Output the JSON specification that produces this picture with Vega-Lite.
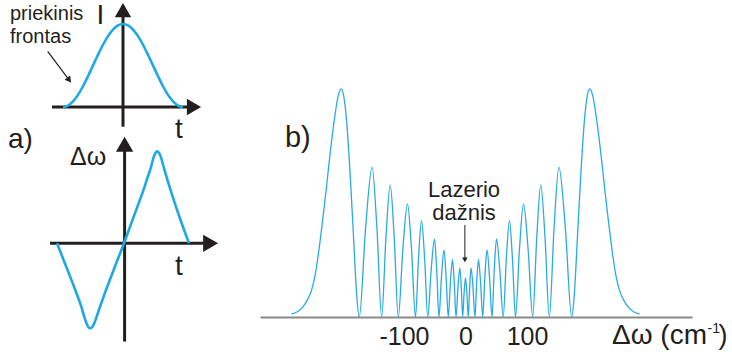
{
  "$schema": "https://vega.github.io/schema/vega-lite/v6.json",
  "padding": 0,
  "spacing": 30,
  "config": {"view": {"stroke": null}, "font": "Liberation Sans"},
  "datasets": {
    "a1Axes": [{"t": -3.55, "v": 0, "t2": 3.55, "v2": 0}, {"t": 0, "v": -0.237, "t2": 0, "v2": 1.167}],
    "a1Heads": [{"t": 3.55, "v": 0, "dir": "right"}, {"t": 0, "v": 1.167, "dir": "up"}],
    "a1Words": [{"t": -5.65, "v": 1.043, "label": "priekinis"}, {"t": -5.65, "v": 0.771, "label": "frontas"}],
    "a1Symbols": [{"t": -1.33, "v": 1.0, "label": "I"}, {"t": 2.6, "v": -0.37, "label": "t"}],
    "a1Pointer": [{"t": -3.765, "v": 0.67, "t2": -2.69, "v2": 0.325}],
    "a1PointerHead": [{"t": -2.69, "v": 0.325}],
    "pulse": [
      {"t": -3, "v": 0}, {"t": -2.75, "v": 0.017}, {"t": -2.5, "v": 0.067}, {"t": -2.25, "v": 0.146},
      {"t": -2, "v": 0.25}, {"t": -1.75, "v": 0.371}, {"t": -1.5, "v": 0.5}, {"t": -1.25, "v": 0.629},
      {"t": -1, "v": 0.75}, {"t": -0.75, "v": 0.854}, {"t": -0.5, "v": 0.933}, {"t": -0.25, "v": 0.983},
      {"t": 0, "v": 1}, {"t": 0.25, "v": 0.983}, {"t": 0.5, "v": 0.933}, {"t": 0.75, "v": 0.854},
      {"t": 1, "v": 0.75}, {"t": 1.25, "v": 0.629}, {"t": 1.5, "v": 0.5}, {"t": 1.75, "v": 0.371},
      {"t": 2, "v": 0.25}, {"t": 2.25, "v": 0.146}, {"t": 2.5, "v": 0.067}, {"t": 2.75, "v": 0.017}, {"t": 3, "v": 0}
    ],
    "a2Axes": [{"t": -3.7, "v": 0, "t2": 4.33, "v2": 0}, {"t": 0.03, "v": -1.11, "t2": 0.03, "v2": 1.12}],
    "a2Heads": [{"t": 4.33, "v": 0, "dir": "right"}, {"t": 0.03, "v": 1.12, "dir": "up"}],
    "a2Big": [{"t": -5.8, "v": 1.077, "label": "a)"}, {"t": 2.55, "v": -0.358, "label": "t"}],
    "a2Small": [{"t": -2.7, "v": 0.885, "label": "Δω"}],
    "chirp": [
      {"t": -3.35, "v": 0}, {"t": -3.0, "v": -0.2}, {"t": -2.6, "v": -0.43}, {"t": -2.3, "v": -0.61},
      {"t": -2.1, "v": -0.74}, {"t": -2.0, "v": -0.82}, {"t": -1.9, "v": -0.89}, {"t": -1.8, "v": -0.94},
      {"t": -1.7, "v": -0.96}, {"t": -1.6, "v": -0.95}, {"t": -1.5, "v": -0.91}, {"t": -1.4, "v": -0.85},
      {"t": -1.25, "v": -0.75}, {"t": -1.0, "v": -0.59}, {"t": -0.5, "v": -0.29}, {"t": 0, "v": 0},
      {"t": 0.5, "v": 0.31}, {"t": 1.0, "v": 0.62}, {"t": 1.2, "v": 0.76}, {"t": 1.35, "v": 0.86},
      {"t": 1.45, "v": 0.95}, {"t": 1.55, "v": 1.01}, {"t": 1.65, "v": 1.04}, {"t": 1.75, "v": 1.02},
      {"t": 1.85, "v": 0.97}, {"t": 1.95, "v": 0.89}, {"t": 2.1, "v": 0.77}, {"t": 2.4, "v": 0.55},
      {"t": 2.8, "v": 0.28}, {"t": 3.25, "v": 0}
    ],
    "spectrum": [
      {"w": -283, "v": 0.013}, {"w": -274, "v": 0.022}, {"w": -265, "v": 0.042}, {"w": -257, "v": 0.075},
      {"w": -250, "v": 0.12}, {"w": -244, "v": 0.19}, {"w": -238, "v": 0.3}, {"w": -232, "v": 0.43},
      {"w": -226, "v": 0.57}, {"w": -220, "v": 0.72}, {"w": -213, "v": 0.87}, {"w": -207, "v": 0.97},
      {"w": -202, "v": 1.0}, {"w": -198, "v": 0.97}, {"w": -193, "v": 0.85}, {"w": -187, "v": 0.6},
      {"w": -182, "v": 0.35}, {"w": -177, "v": 0.1}, {"w": -172.7, "v": 0},
      {"w": -162.3, "v": 0.394}, {"w": -151.9, "v": 0.657}, {"w": -144.1, "v": 0.394}, {"w": -136.3, "v": 0},
      {"w": -129.35, "v": 0.347}, {"w": -122.4, "v": 0.578}, {"w": -115.85, "v": 0.347}, {"w": -109.3, "v": 0},
      {"w": -101.8, "v": 0.298}, {"w": -94.3, "v": 0.496}, {"w": -87.8, "v": 0.298}, {"w": -81.3, "v": 0},
      {"w": -76.4, "v": 0.254}, {"w": -71.5, "v": 0.423}, {"w": -66.4, "v": 0.254}, {"w": -61.3, "v": 0},
      {"w": -55.85, "v": 0.205}, {"w": -50.4, "v": 0.341}, {"w": -46.75, "v": 0.205}, {"w": -43.1, "v": 0},
      {"w": -39.05, "v": 0.176}, {"w": -35.0, "v": 0.294}, {"w": -31.5, "v": 0.176}, {"w": -28.0, "v": 0},
      {"w": -24.55, "v": 0.151}, {"w": -21.1, "v": 0.251}, {"w": -18.25, "v": 0.151}, {"w": -15.4, "v": 0},
      {"w": -12.25, "v": 0.129}, {"w": -9.1, "v": 0.215}, {"w": -6.8, "v": 0.129}, {"w": -4.55, "v": 0},
      {"w": -2.3, "v": 0.103}, {"w": 0, "v": 0.171}, {"w": 2.3, "v": 0.103},
      {"w": 4.55, "v": 0}, {"w": 6.8, "v": 0.129}, {"w": 9.1, "v": 0.215}, {"w": 12.25, "v": 0.129},
      {"w": 15.4, "v": 0}, {"w": 18.25, "v": 0.151}, {"w": 21.1, "v": 0.251}, {"w": 24.55, "v": 0.151},
      {"w": 28.0, "v": 0}, {"w": 31.5, "v": 0.176}, {"w": 35.0, "v": 0.294}, {"w": 39.05, "v": 0.176},
      {"w": 43.1, "v": 0}, {"w": 46.75, "v": 0.205}, {"w": 50.4, "v": 0.341}, {"w": 55.85, "v": 0.205},
      {"w": 61.3, "v": 0}, {"w": 66.4, "v": 0.254}, {"w": 71.5, "v": 0.423}, {"w": 76.4, "v": 0.254},
      {"w": 81.3, "v": 0}, {"w": 87.8, "v": 0.298}, {"w": 94.3, "v": 0.496}, {"w": 101.8, "v": 0.298},
      {"w": 109.3, "v": 0}, {"w": 115.85, "v": 0.347}, {"w": 122.4, "v": 0.578}, {"w": 129.35, "v": 0.347},
      {"w": 136.3, "v": 0}, {"w": 144.1, "v": 0.394}, {"w": 151.9, "v": 0.657}, {"w": 162.3, "v": 0.394},
      {"w": 172.7, "v": 0}, {"w": 177, "v": 0.1}, {"w": 182, "v": 0.35}, {"w": 187, "v": 0.6},
      {"w": 193, "v": 0.85}, {"w": 198, "v": 0.97}, {"w": 202, "v": 1.0}, {"w": 207, "v": 0.97},
      {"w": 213, "v": 0.87}, {"w": 220, "v": 0.72}, {"w": 226, "v": 0.57}, {"w": 232, "v": 0.43},
      {"w": 238, "v": 0.3}, {"w": 244, "v": 0.19}, {"w": 250, "v": 0.12}, {"w": 257, "v": 0.075},
      {"w": 265, "v": 0.042}, {"w": 274, "v": 0.022}, {"w": 283, "v": 0.013}
    ],
    "bLabel": [{"w": -293.5, "v": 0.747, "label": "b)"}],
    "laser": [{"w": -2.4, "v": 0.526, "label": "Lazerio"}, {"w": -2.4, "v": 0.425, "label": "dažnis"}],
    "laserArrow": [{"w": -1, "v": 0.4035, "w2": -1, "v2": 0.255}],
    "laserHead": [{"w": -1, "v": 0.251}],
    "titleMain": [{"w": 392.7, "v": -0.118, "label": "Δω (cm"}],
    "titleSup": [{"w": 393.5, "v": -0.07, "label": "-1"}],
    "titleEnd": [{"w": 411.4, "v": -0.118, "label": ")"}]
  },
  "hconcat": [
    {
      "vconcat": [
        {
          "width": 230,
          "height": 130,
          "encoding": {
            "x": {"field": "t", "type": "quantitative", "scale": {"domain": [-6.15, 5.35], "nice": false, "zero": false}, "axis": null},
            "y": {"field": "v", "type": "quantitative", "scale": {"domain": [-0.277, 1.289], "nice": false, "zero": false}, "axis": null}
          },
          "layer": [
            {"data": {"name": "a1Axes"}, "mark": {"type": "rule", "color": "#231f20", "strokeWidth": 3}, "encoding": {"x2": {"field": "t2"}, "y2": {"field": "v2"}}},
            {"data": {"name": "a1Heads"}, "mark": {"type": "point", "filled": true, "opacity": 1, "color": "#231f20", "size": 270}, "encoding": {"shape": {"field": "dir", "type": "nominal", "scale": {"domain": ["right", "up"], "range": ["triangle-right", "triangle-up"]}, "legend": null}}},
            {"data": {"name": "pulse"}, "mark": {"type": "line", "color": "#1fa9e1", "strokeWidth": 2.6, "interpolate": "monotone"}},
            {"data": {"name": "a1Words"}, "mark": {"type": "text", "align": "left", "baseline": "alphabetic", "fontSize": 20, "color": "#231f20"}, "encoding": {"text": {"field": "label"}}},
            {"data": {"name": "a1Symbols"}, "mark": {"type": "text", "align": "left", "baseline": "alphabetic", "fontSize": 28, "color": "#231f20"}, "encoding": {"text": {"field": "label"}}},
            {"data": {"name": "a1Pointer"}, "mark": {"type": "rule", "color": "#231f20", "strokeWidth": 1.2}, "encoding": {"x2": {"field": "t2"}, "y2": {"field": "v2"}}},
            {"data": {"name": "a1PointerHead"}, "mark": {"type": "point", "shape": "triangle-down", "angle": -37, "filled": true, "opacity": 1, "color": "#231f20", "size": 50}}
          ]
        },
        {
          "width": 230,
          "height": 225,
          "encoding": {
            "x": {"field": "t", "type": "quantitative", "scale": {"domain": [-6.2, 5.3], "nice": false, "zero": false}, "axis": null},
            "y": {"field": "v", "type": "quantitative", "scale": {"domain": [-1.262, 1.28], "nice": false, "zero": false}, "axis": null}
          },
          "layer": [
            {"data": {"name": "a2Axes"}, "mark": {"type": "rule", "color": "#231f20", "strokeWidth": 3}, "encoding": {"x2": {"field": "t2"}, "y2": {"field": "v2"}}},
            {"data": {"name": "a2Heads"}, "mark": {"type": "point", "filled": true, "opacity": 1, "color": "#231f20", "size": 300}, "encoding": {"shape": {"field": "dir", "type": "nominal", "scale": {"domain": ["right", "up"], "range": ["triangle-right", "triangle-up"]}, "legend": null}}},
            {"data": {"name": "chirp"}, "mark": {"type": "line", "color": "#1fa9e1", "strokeWidth": 2.6, "interpolate": "monotone"}},
            {"data": {"name": "a2Big"}, "mark": {"type": "text", "align": "left", "baseline": "alphabetic", "fontSize": 28, "color": "#231f20"}, "encoding": {"text": {"field": "label"}}},
            {"data": {"name": "a2Small"}, "mark": {"type": "text", "align": "left", "baseline": "alphabetic", "fontSize": 25, "color": "#231f20"}, "encoding": {"text": {"field": "label"}}}
          ]
        }
      ],
      "spacing": 0,
      "bounds": "flush"
    },
    {
      "width": 432,
      "height": 317,
      "encoding": {
        "x": {
          "field": "w", "type": "quantitative",
          "scale": {"domain": [-334.1, 368.3], "nice": false, "zero": false},
          "axis": {
            "values": [-100, 0, 100], "ticks": false, "tickSize": 0, "grid": false, "title": null,
            "domainColor": "#8a8a8a", "domainWidth": 2,
            "labelFont": "Liberation Sans", "labelFontSize": 25, "labelColor": "#231f20",
            "labelBaseline": "alphabetic", "labelPadding": 27, "labelFlush": false, "labelOverlap": false,
            "labelExpr": "datum.value < 0 ? '-' + abs(datum.value) : '' + datum.value"
          }
        },
        "y": {"field": "v", "type": "quantitative", "scale": {"domain": [0, 1.39], "nice": false, "zero": false}, "axis": null}
      },
      "layer": [
        {"data": {"name": "spectrum"}, "mark": {"type": "line", "color": "#29abe2", "strokeWidth": 1.3, "interpolate": "monotone"}},
        {"data": {"name": "bLabel"}, "mark": {"type": "text", "align": "left", "baseline": "alphabetic", "fontSize": 29, "color": "#231f20"}, "encoding": {"text": {"field": "label"}}},
        {"data": {"name": "laser"}, "mark": {"type": "text", "align": "center", "baseline": "alphabetic", "fontSize": 22, "color": "#231f20"}, "encoding": {"text": {"field": "label"}}},
        {"data": {"name": "laserArrow"}, "mark": {"type": "rule", "color": "#231f20", "strokeWidth": 1}, "encoding": {"x2": {"field": "w2"}, "y2": {"field": "v2"}}},
        {"data": {"name": "laserHead"}, "mark": {"type": "point", "shape": "triangle-down", "filled": true, "opacity": 1, "color": "#231f20", "size": 30}},
        {"data": {"name": "titleMain"}, "mark": {"type": "text", "align": "right", "baseline": "alphabetic", "fontSize": 28, "color": "#231f20"}, "encoding": {"text": {"field": "label"}}},
        {"data": {"name": "titleSup"}, "mark": {"type": "text", "align": "left", "baseline": "alphabetic", "fontSize": 14, "color": "#231f20"}, "encoding": {"text": {"field": "label"}}},
        {"data": {"name": "titleEnd"}, "mark": {"type": "text", "align": "left", "baseline": "alphabetic", "fontSize": 27, "color": "#231f20"}, "encoding": {"text": {"field": "label"}}}
      ]
    }
  ]
}
